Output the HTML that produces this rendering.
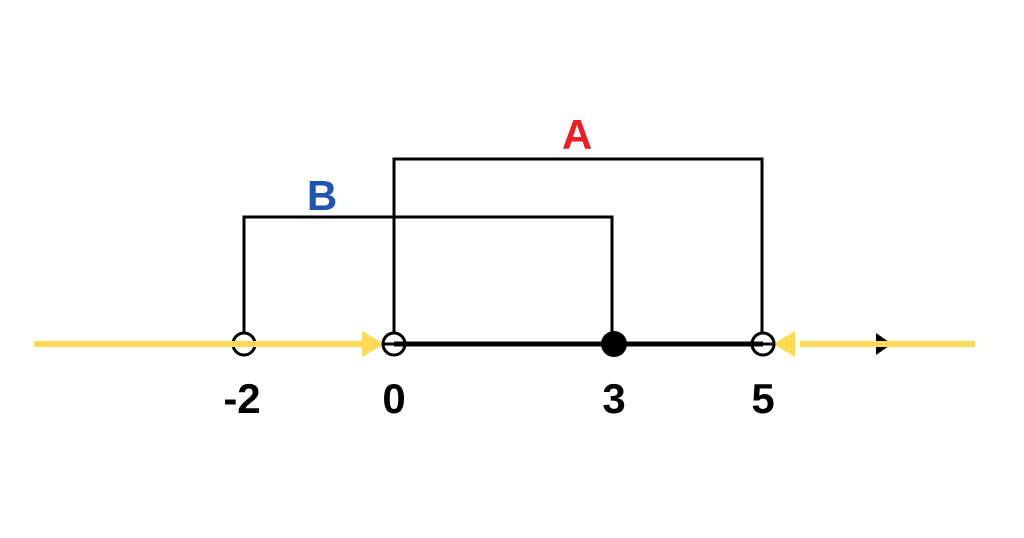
<!DOCTYPE html>
<html><head><style>body{margin:0;background:#fff}</style></head><body>
<svg width="1024" height="538" xmlns="http://www.w3.org/2000/svg" style="display:block">
<rect width="1024" height="538" fill="#fff"/>
<g fill="none" stroke="#000" stroke-width="3">
<polyline points="394,333 394,159 762,159 762,333"/>
<polyline points="244,333 244,217 612,217 612,344"/>
</g>
<line x1="394" y1="344" x2="763" y2="344" stroke="#000" stroke-width="5"/>
<polygon points="876,333 892,344 876,355" fill="#000"/>
<circle cx="244" cy="344" r="11" fill="none" stroke="#000" stroke-width="3"/>
<g stroke="#FFDA55" stroke-width="6">
<line x1="34" y1="344" x2="370" y2="344"/>
<line x1="800" y1="344" x2="975" y2="344"/>
</g>
<polygon points="362,331 384,344 362,357" fill="#FFDA55"/>
<polygon points="795,331 773,344 795,357" fill="#FFDA55"/>
<g fill="none" stroke="#000" stroke-width="3">
<circle cx="394" cy="344" r="11"/>
<circle cx="763" cy="344" r="11"/>
</g>
<line x1="383" y1="344" x2="405" y2="344" stroke="#000" stroke-width="3"/>
<line x1="752" y1="344" x2="774" y2="344" stroke="#000" stroke-width="3"/>
<circle cx="614" cy="344" r="13" fill="#000"/>
<g font-family="Liberation Sans, sans-serif" font-weight="bold" font-size="42" text-anchor="middle">
<text x="242" y="413">-2</text>
<text x="394" y="413">0</text>
<text x="614" y="413">3</text>
<text x="763" y="413">5</text>
<text x="577" y="149" fill="#EE1C24">A</text>
<text x="322" y="210" fill="#1F55B0">B</text>
</g>
</svg>
</body></html>
